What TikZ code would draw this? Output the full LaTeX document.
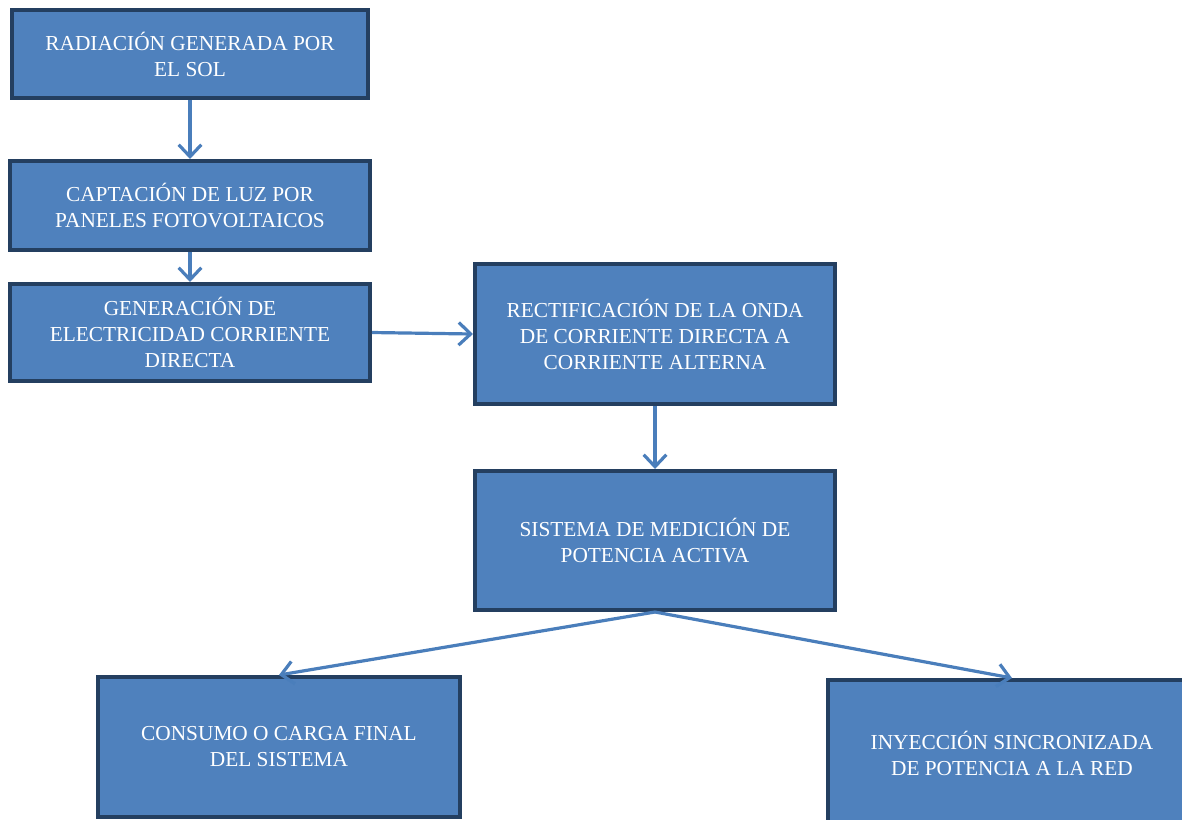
\documentclass[tikz,border=0pt]{standalone}
\usepackage{fontspec}
\setmainfont{Liberation Serif}
\usetikzlibrary{arrows.meta}
\definecolor{boxfill}{HTML}{4F81BD}
\definecolor{boxline}{HTML}{243F60}
\definecolor{arrowc}{HTML}{4A7EBB}
\begin{document}
\begin{tikzpicture}[x=0.75pt,y=-0.75pt,
  box/.style={draw=boxline, fill=boxfill, line width=3pt, text=white, align=center,
    inner sep=0pt, font=\fontsize{16}{19.5}\selectfont},
  conn/.style={draw=arrowc, line width=2.4pt, -{Straight Barb[length=9pt,width=17pt,line width=2.4pt]}}]
\path[use as bounding box] (0,0) rectangle (1182,819);
\begin{scope}
\clip (0,0) rectangle (1182,819);
\node[box, minimum width=267pt, minimum height=66pt] (b1) at (190,54) {RADIACIÓN GENERADA POR\\EL SOL};
\node[box, minimum width=270pt, minimum height=66.75pt] (b2) at (190,205.5) {CAPTACIÓN DE LUZ POR\\PANELES FOTOVOLTAICOS};
\node[box, minimum width=270pt, minimum height=72.75pt] (b3) at (190,332.5) {GENERACIÓN DE\\ELECTRICIDAD CORRIENTE\\DIRECTA};
\node[box, minimum width=270pt, minimum height=105pt] (b4) at (655,334) {RECTIFICACIÓN DE LA ONDA\\DE CORRIENTE DIRECTA A\\CORRIENTE ALTERNA};
\node[box, minimum width=270pt, minimum height=104.25pt] (b5) at (655,540.5) {SISTEMA DE MEDICIÓN DE\\POTENCIA ACTIVA};
\node[box, minimum width=271.5pt, minimum height=105pt] (b6) at (279,747) {CONSUMO O CARGA FINAL\\DEL SISTEMA};
\node[box, minimum width=276pt, minimum height=109.5pt] (b7) at (1012,753) {INYECCIÓN SINCRONIZADA\\DE POTENCIA A LA RED};
\draw[conn] (b1.south) -- (b2.north);
\draw[conn] (b2.south) -- (b3.north);
\draw[conn] (b3.east) -- (b4.west);
\draw[conn] (b4.south) -- (b5.north);
\draw[conn] (b5.south) -- (b6.north);
\draw[conn] (b5.south) -- (b7.north);
\end{scope}
\end{tikzpicture}
\end{document}
